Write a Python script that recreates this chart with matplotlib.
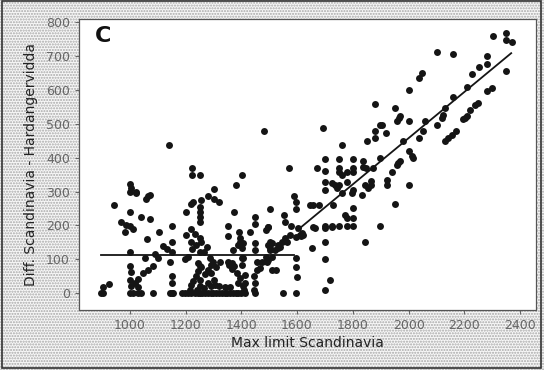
import matplotlib
matplotlib.use("Agg")
import matplotlib.pyplot as plt
from matplotlib.patches import Rectangle

# points (Max limit Scandinavia, Diff. Scandinavia - Hardangervidda)
max_limit_low = [
    898, 904, 904, 925, 944, 970, 982, 988,
    1000, 1000, 1006, 1021, 1024, 1000, 1000, 1012, 1000, 1000, 1006, 1000, 1012, 1000, 1006,
    1060, 1072, 1066, 1042, 1072, 1061, 1054, 1048, 1030, 1018, 1030, 1030, 1042, 1064, 1084,
    1092, 1102, 1104, 1084, 1120,
    1141, 1144, 1152, 1152, 1132, 1152, 1152, 1152, 1144, 1155, 1150,
    1200, 1200, 1219, 1233, 1251, 1224, 1224, 1251, 1227, 1219, 1251, 1251, 1251, 1251, 1224,
    1209, 1197, 1221, 1239, 1257, 1251, 1251, 1245, 1236, 1227, 1219, 1245, 1257, 1251, 1251,
    1197, 1209, 1221, 1233, 1245, 1251, 1260, 1270, 1280, 1290, 1186, 1215, 1240,
    1267, 1277, 1281, 1301, 1319, 1301, 1254, 1281, 1293, 1287, 1299, 1280, 1290, 1270, 1290, 1265,
]
diff_low = [
    0, 19, 0, 26, 261, 210, 180, 201,
    322, 300, 310, 295, 300, 240, 199, 190, 120, 81, 63, 0, 0, 40, 20,
    278, 290, 286, 224, 218, 160, 103, 58, 43, 29, 19, 0, 0, 68, 81,
    116, 103, 180, 0, 140,
    438, 91, 199, 150, 130, 120, 51, 30, 0, 0, 0,
    239, 172, 190, 175, 162, 371, 350, 350, 270, 264, 254, 240, 225, 210, 130,
    108, 101, 152, 142, 152, 122, 80, 65, 50, 35, 25, 88, 78, 40, 20,
    0, 0, 0, 0, 0, 0, 0, 0, 0, 0, 0, 10, 10,
    122, 135, 288, 278, 269, 308, 275, 68, 83, 103, 93, 30, 20, 55, 60, 15,
]

max_limit_mid = [
    1301, 1306, 1320, 1340, 1360, 1311, 1323, 1353, 1353, 1353, 1373, 1382, 1403, 1391, 1395, 1431,
    1371, 1389, 1395, 1401, 1407, 1401, 1407, 1401, 1355, 1365, 1375, 1368, 1383, 1395, 1390, 1405,
    1413, 1413, 1410,
    1300, 1310, 1320, 1330, 1340, 1350, 1360, 1370, 1380, 1390, 1400, 1413,
    1451, 1451, 1449, 1449, 1455, 1473, 1491, 1487, 1455, 1467, 1445, 1451, 1445, 1451,
    1481, 1496, 1487, 1503, 1509, 1503, 1496, 1509, 1503, 1511, 1524,
    1521, 1532, 1546, 1556, 1553, 1556, 1571, 1580, 1589, 1598, 1598, 1604, 1616, 1598, 1613,
    1598, 1598, 1601, 1550, 1598, 1540, 1565, 1531, 1574, 1495, 1503, 1495, 1610,
]
diff_mid = [
    40, 25, 20, 18, 18, 78, 93, 93, 199, 170, 241, 320, 350, 180, 162, 180,
    127, 142, 152, 132, 147, 103, 103, 83, 83, 88, 80, 70, 60, 45, 30, 20,
    53, 29, 10,
    0, 0, 0, 0, 0, 0, 0, 0, 0, 0, 0, 0,
    224, 204, 147, 127, 93, 93, 93, 108, 68, 73, 50, 30, 10, 0,
    478, 196, 187, 249, 147, 132, 98, 108, 127, 68, 68,
    127, 142, 152, 162, 231, 211, 369, 199, 288, 270, 249, 192, 177, 167, 169,
    103, 78, 48, 0, 0, 135, 150, 133, 172, 142, 152, 196, 172,
]

max_limit_high = [
    1622, 1652, 1646, 1658, 1680, 1658, 1664, 1672, 1692, 1700, 1702, 1702, 1702, 1702, 1702,
    1702, 1700, 1718, 1700, 1724,
    1726, 1736, 1742, 1750, 1726, 1730, 1750, 1750, 1750, 1750, 1760, 1760, 1760, 1772, 1778,
    1778, 1778, 1780, 1796, 1802, 1802, 1802, 1802, 1802, 1802, 1802,
    1832, 1837, 1837, 1843, 1843, 1849, 1855, 1852, 1864, 1867, 1871, 1879, 1879, 1879, 1897,
    1897, 1897,
    1903, 1919, 1921, 1921, 1939, 1951, 1951, 1957, 1963, 1969, 1959, 1966, 1969, 1981, 2001,
    2003, 2001, 2011, 2017, 2001,
    2037, 2047, 2038, 2053, 2059, 2101, 2101, 2119, 2125, 2131, 2131, 2143, 2154, 2170, 2158,
    2161, 2196, 2204, 2208, 2222, 2238, 2250, 2211, 2226, 2254, 2280, 2280, 2280, 2300, 2302,
    2350, 2350, 2370, 2350,
]
diff_high = [
    172, 132, 261, 261, 261, 196, 192, 369, 488, 397, 362, 328, 305, 199, 152,
    100, 9, 38, 192, 196,
    325, 320, 310, 320, 199, 261, 199, 369, 359, 397, 350, 439, 295, 231, 221,
    199, 359, 328, 295, 397, 369, 359, 305, 251, 221, 199,
    290, 389, 374, 320, 152, 369, 310, 448, 330, 320, 369, 558, 478, 458, 498,
    399, 199,
    498, 473, 335, 320, 359, 547, 264, 379, 384, 389, 508, 518, 522, 448, 508,
    599, 419, 404, 399, 320,
    636, 651, 458, 478, 508, 713, 498, 518, 527, 547, 448, 458, 468, 478, 579,
    707, 513, 516, 522, 542, 557, 562, 608, 646, 668, 678, 700, 596, 606, 760,
    769, 748, 743, 656,
]

# fitted broken-stick line
flat_x = [896, 1590]
flat_y = [113, 113]
slope_x = [1600, 2368]
slope_y = [185, 709]

x_ticks = [1000, 1200, 1400, 1600, 1800, 2000, 2200, 2400]
y_ticks = [0, 100, 200, 300, 400, 500, 600, 700, 800]

fig = plt.figure(figsize=(5.44, 3.70), dpi=100)
fig.patch.set_facecolor("white")

# stippled background like the original
bg = Rectangle((0, 0), 1, 1, transform=fig.transFigure, facecolor="#f7f7f7",
               edgecolor="#a8a8a8", hatch="......", linewidth=0, zorder=-10)
fig.patches.append(bg)
frame = Rectangle((2 / 544, 2 / 370), 539 / 544, 367 / 370, transform=fig.transFigure,
                  facecolor="none", edgecolor="#333333", linewidth=1.2, zorder=-5)
fig.patches.append(frame)

ax = fig.add_axes([79 / 544, 60 / 370, 457 / 544, 291 / 370])
ax.set_facecolor("white")

dot = dict(s=25, color="#151515", linewidths=0, zorder=3)
ax.scatter(max_limit_low, diff_low, **dot)
ax.scatter(max_limit_mid, diff_mid, **dot)
ax.scatter(max_limit_high, diff_high, **dot)

ax.plot(flat_x, flat_y, color="#151515", linewidth=1.3, zorder=2)
ax.plot(slope_x, slope_y, color="#151515", linewidth=1.3, zorder=2)

ax.set_xlim(818, 2457)
ax.set_ylim(-50, 810)
ax.set_xticks(x_ticks)
ax.set_yticks(y_ticks)
ax.tick_params(direction="out", length=3, width=0.8, color="#666666",
               labelcolor="#666666", labelsize=9)
for s in ax.spines.values():
    s.set_color("#555555")
    s.set_linewidth(0.9)

ax.set_xlabel("Max limit Scandinavia", fontsize=10, color="#222222", labelpad=3)
ax.set_ylabel("Diff. Scandinavia - Hardangervidda", fontsize=10, color="#222222", labelpad=6)
ax.text(0.035, 0.94, "C", transform=ax.transAxes, fontsize=16, fontweight="bold",
        ha="left", va="center", color="#111111")

fig.savefig("out.png", dpi=100)
